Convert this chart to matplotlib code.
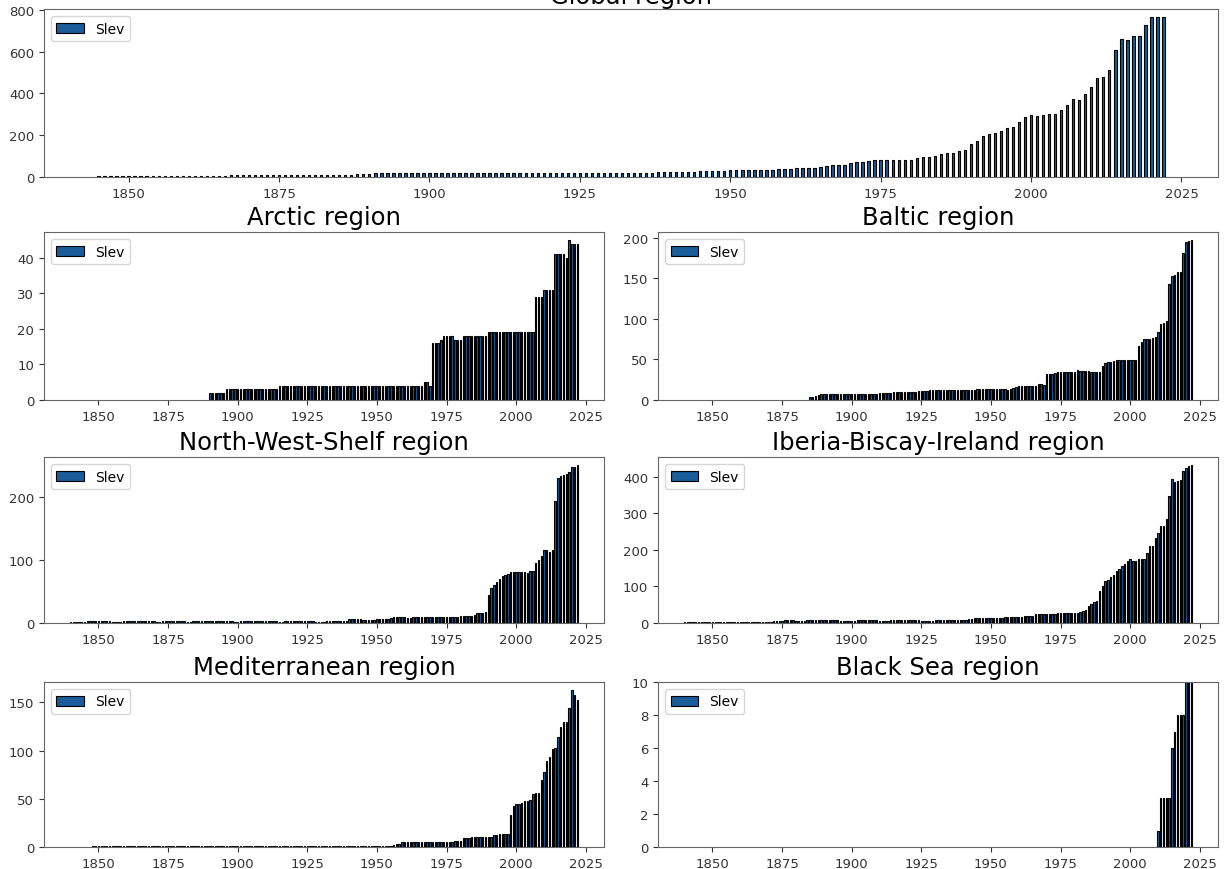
import matplotlib
matplotlib.use("Agg")
from matplotlib import pyplot as plt
from matplotlib.ticker import MultipleLocator

# Slev station counts per year
global_start = 1845
global_slev = [
    3, 3, 3, 3, 6, 6, 7, 7, 7, 7, 7, 7, 7, 7, 7,
    7, 7, 7, 7, 7, 7, 7, 8, 8, 8,
    8, 8, 8, 8, 8, 8, 9, 9, 9, 9,
    9, 9, 9, 9, 9, 10, 11, 11, 12, 13,
    15, 17, 17, 17, 17, 17, 17, 17, 17, 17,
    17, 17, 17, 17, 17, 17, 17, 17, 17, 17,
    17, 17, 17, 17, 17, 17, 18, 18, 18, 18,
    18, 18, 18, 18, 18, 18, 18, 18, 18, 18,
    18, 18, 18, 18, 18, 19, 19, 20, 22, 24,
    25, 25, 26, 26, 26, 27, 28, 28, 29, 30,
    32, 32, 32, 33, 33, 33, 34, 35, 38, 39,
    40, 42, 43, 43, 44, 47, 52, 57, 57, 58,
    68, 71, 72, 77, 79, 80, 82, 83, 83, 83,
    83, 90, 95, 95, 102, 110, 117, 117, 122, 130,
    159, 173, 197, 205, 209, 221, 236, 241, 265, 286,
    295, 290, 295, 300, 303, 319, 343, 373, 368, 395,
    432, 471, 479, 511, 609, 660, 657, 673, 676, 725,
    765, 765, 765,
]

arctic_start = 1890
arctic_slev = [
    2, 2, 2, 2, 2, 2, 3, 3, 3, 3,
    3, 3, 3, 3, 3, 3, 3, 3, 3, 3,
    3, 3, 3, 3, 3, 4, 4, 4, 4, 4,
    4, 4, 4, 4, 4, 4, 4, 4, 4, 4,
    4, 4, 4, 4, 4, 4, 4, 4, 4, 4,
    4, 4, 4, 4, 4, 4, 4, 4, 4, 4,
    4, 4, 4, 4, 4, 4, 4, 4, 4, 4,
    4, 4, 4, 4, 4, 4, 4, 5, 5, 4,
    16, 16, 16, 17, 18, 18, 18, 18, 17, 17,
    17, 18, 18, 18, 18, 18, 18, 18, 18, 18,
    19, 19, 19, 19, 19, 19, 19, 19, 19, 19,
    19, 19, 19, 19, 19, 19, 19, 29, 29, 29,
    31, 31, 31, 31, 41, 41, 41, 41, 40, 45,
    44, 44, 44,
]

baltic_start = 1885
baltic_slev = [
    4, 4, 5, 6, 8,
    8, 8, 8, 8, 8, 7, 8, 8, 8, 8,
    8, 8, 8, 8, 8, 8, 8, 8, 8, 8,
    9, 9, 9, 9, 9, 10, 10, 10, 10, 10,
    10, 10, 10, 10, 11, 11, 11, 11, 12, 12,
    12, 12, 12, 12, 12, 12, 12, 12, 12, 12,
    12, 12, 12, 12, 12, 13, 13, 13, 13, 13,
    13, 13, 13, 13, 13, 13, 12, 13, 15, 16,
    17, 17, 17, 17, 17, 17, 17, 20, 20, 19,
    32, 32, 32, 33, 34, 35, 35, 35, 34, 34,
    34, 37, 36, 36, 36, 36, 35, 35, 35, 35,
    42, 46, 47, 47, 48, 49, 49, 49, 49, 49,
    49, 49, 49, 67, 72, 75, 75, 75, 76, 77,
    84, 93, 95, 97, 143, 153, 154, 158, 157, 181,
    195, 196, 197,
]

nws_start = 1840
nws_slev = [
    1, 1, 1, 1, 1, 2, 3, 3, 3, 3,
    3, 3, 3, 3, 3, 2, 1, 1, 1, 3,
    3, 3, 3, 3, 3, 3, 3, 3, 3, 3,
    3, 2, 1, 3, 3, 3, 3, 3, 3, 3,
    3, 3, 2, 1, 3, 3, 3, 3, 3, 3,
    3, 3, 3, 3, 3, 3, 3, 3, 3, 2,
    1, 3, 3, 3, 3, 3, 3, 3, 3, 3,
    3, 3, 3, 3, 3, 2, 2, 3, 3, 3,
    3, 3, 3, 3, 3, 3, 3, 3, 2, 2,
    1, 2, 3, 3, 3, 3, 3, 3, 3, 3,
    6, 6, 6, 6, 6, 4, 4, 4, 5, 5,
    6, 6, 6, 7, 7, 8, 9, 9, 9, 9,
    9, 8, 8, 9, 9, 9, 9, 9, 9, 10,
    10, 10, 10, 10, 10, 10, 10, 10, 9, 9,
    11, 11, 11, 11, 11, 12, 16, 16, 16, 17,
    44, 55, 60, 65, 69, 74, 76, 77, 80, 80,
    80, 80, 80, 80, 79, 82, 82, 95, 99, 106,
    116, 116, 113, 116, 193, 230, 233, 234, 235, 238,
    246, 246, 250,
]

ibi_start = 1840
ibi_slev = [
    2, 2, 2, 2, 2, 3, 3, 4, 4, 4,
    3, 2, 3, 3, 4, 4, 4, 4, 4, 4,
    4, 4, 4, 4, 4, 4, 3, 3, 3, 4,
    4, 4, 5, 5, 5, 6, 7, 8, 9, 7,
    5, 5, 6, 6, 7, 7, 7, 7, 7, 7,
    7, 7, 7, 7, 7, 7, 6, 6, 6, 6,
    6, 6, 7, 7, 7, 7, 7, 7, 7, 7,
    6, 6, 6, 6, 7, 7, 7, 7, 7, 7,
    7, 7, 7, 7, 7, 6, 5, 5, 6, 6,
    7, 7, 7, 7, 7, 7, 7, 7, 8, 8,
    9, 9, 10, 10, 13, 14, 14, 14, 14, 14,
    14, 14, 15, 15, 15, 16, 16, 16, 17, 17,
    17, 17, 19, 20, 20, 20, 24, 25, 25, 25,
    25, 24, 25, 26, 28, 28, 28, 28, 28, 28,
    28, 28, 30, 33, 35, 46, 53, 57, 60, 87,
    101, 115, 119, 125, 131, 142, 149, 155, 162, 169,
    175, 169, 169, 174, 175, 176, 192, 212, 212, 233,
    246, 265, 265, 285, 348, 395, 385, 389, 392, 415,
    424, 430, 433,
]

med_start = 1848
med_slev = [
    1, 1,
    1, 1, 1, 1, 1, 1, 1, 1, 1, 1,
    1, 1, 1, 1, 1, 1, 1, 1, 1, 1,
    1, 1, 1, 1, 1, 1, 1, 1, 1, 1,
    1, 1, 1, 1, 1, 1, 1, 1, 1, 1,
    1, 1, 1, 1, 1, 1, 1, 1, 1, 1,
    1, 1, 1, 1, 1, 1, 1, 1, 1, 1,
    1, 1, 1, 1, 1, 1, 1, 1, 1, 1,
    1, 1, 1, 1, 1, 1, 1, 1, 1, 1,
    1, 1, 1, 1, 1, 1, 1, 1, 1, 1,
    1, 1, 1, 1, 1, 1, 1, 1, 1, 1,
    1, 1, 1, 1, 1, 1, 2, 3, 3, 5,
    5, 5, 5, 5, 5, 5, 5, 5, 5, 5,
    5, 5, 5, 5, 5, 5, 5, 5, 6, 6,
    6, 9, 9, 9, 10, 10, 10, 10, 10, 10,
    10, 10, 12, 12, 13, 13, 13, 14, 33, 43,
    45, 45, 46, 48, 48, 49, 55, 56, 56, 69,
    78, 89, 93, 102, 103, 114, 124, 130, 130, 144,
    163, 158, 152,
]

blacksea_start = 2010
blacksea_slev = [1, 3, 3, 3, 3, 6, 7, 8, 8, 8, 10, 10, 10]

first_year = 1840
last_year = 2022
bar_color = "#1a5b9a"

fig = plt.figure(figsize=(12.26, 8.7), dpi=100)


def draw_panel(rect, title, start, values, width, ystep, xlim=None, ylim=None, pad=6):
    ax = fig.add_axes(rect)
    years = list(range(start, start + len(values)))
    ax.bar(years, values, width=width, color=bar_color, edgecolor="black",
           linewidth=0.8, label="Slev")
    ax.set_title(title, fontsize=17.5, pad=pad)
    if xlim is not None:
        ax.set_xlim(xlim)
    if ylim is not None:
        ax.set_ylim(ylim)
    ax.xaxis.set_major_locator(MultipleLocator(25))
    ax.yaxis.set_major_locator(MultipleLocator(ystep))
    ax.tick_params(labelsize=9.5, colors="#333333", length=3.5, width=0.8)
    for s in ax.spines.values():
        s.set_color("#666666")
        s.set_linewidth(0.8)
    ax.legend(loc="upper left", fontsize=10)
    return ax


# regional panels share the 1840-2022 span
lo = first_year - 0.4
hi = last_year + 0.4
reg_xlim = (lo - 0.05 * (hi - lo), hi + 0.05 * (hi - lo))

L1, R1 = 44 / 1226, 604 / 1226
L2, R2 = 658 / 1226, 1218 / 1226


def row(top_px, bottom_px):
    return 1 - bottom_px / 870, (bottom_px - top_px) / 870


gy, gh = row(10, 178)
draw_panel([L1, gy, R2 - L1, gh], "Global region", global_start, global_slev,
           0.4, 200, pad=4)

rw = 0.5  # regional bars, narrow fill with black edges
y, h = row(233, 401)
draw_panel([L1, y, R1 - L1, h], "Arctic region", arctic_start, arctic_slev,
           rw, 10, xlim=reg_xlim)
draw_panel([L2, y, R2 - L2, h], "Baltic region", baltic_start, baltic_slev,
           rw, 50, xlim=reg_xlim)

y, h = row(458, 624)
draw_panel([L1, y, R1 - L1, h], "North-West-Shelf region", nws_start, nws_slev,
           rw, 100, xlim=reg_xlim)
draw_panel([L2, y, R2 - L2, h], "Iberia-Biscay-Ireland region", ibi_start, ibi_slev,
           rw, 100, xlim=reg_xlim)

y, h = row(683, 848)
draw_panel([L1, y, R1 - L1, h], "Mediterranean region", med_start, med_slev,
           rw, 50, xlim=reg_xlim)
draw_panel([L2, y, R2 - L2, h], "Black Sea region", blacksea_start, blacksea_slev,
           rw, 2, xlim=reg_xlim, ylim=(0, 10))

fig.savefig("out.png", dpi=100)
